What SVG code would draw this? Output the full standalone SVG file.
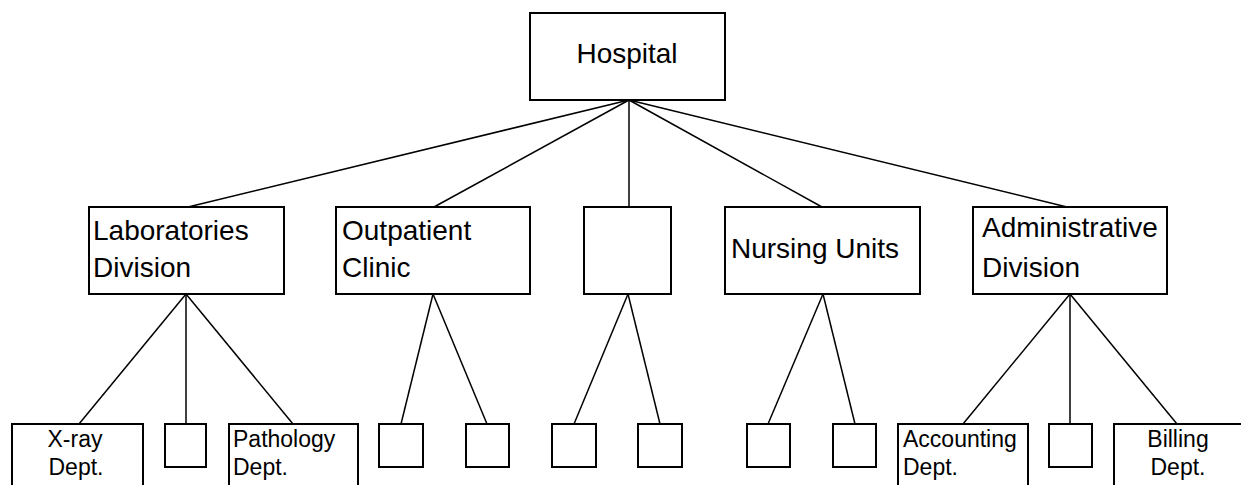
<svg xmlns="http://www.w3.org/2000/svg" width="1241" height="485" viewBox="0 0 1241 485">
<style>
.box{fill:#fff;stroke:#000;stroke-width:2}
.ln{stroke:#000;stroke-width:1.5;fill:none}
.t1{font-family:"Liberation Sans",Arial,sans-serif;font-size:28px;fill:#000}
.t2{font-family:"Liberation Sans",Arial,sans-serif;font-size:23px;fill:#000}
</style>
<rect width="1241" height="485" fill="#fff"/>
<g id="connectors">
<line class="ln" x1="629" y1="100" x2="188" y2="207"/>
<line class="ln" x1="629" y1="100" x2="434" y2="207"/>
<line class="ln" x1="629" y1="100" x2="629" y2="207"/>
<line class="ln" x1="629" y1="100" x2="822" y2="207"/>
<line class="ln" x1="629" y1="100" x2="1067" y2="207"/>
<line class="ln" x1="186" y1="294" x2="79" y2="424"/>
<line class="ln" x1="186" y1="294" x2="186" y2="424"/>
<line class="ln" x1="186" y1="294" x2="293" y2="424"/>
<line class="ln" x1="433" y1="294" x2="401" y2="424"/>
<line class="ln" x1="433" y1="294" x2="487" y2="424"/>
<line class="ln" x1="628" y1="294" x2="574" y2="424"/>
<line class="ln" x1="628" y1="294" x2="660" y2="424"/>
<line class="ln" x1="823" y1="294" x2="768" y2="424"/>
<line class="ln" x1="823" y1="294" x2="855" y2="424"/>
<line class="ln" x1="1070" y1="294" x2="963" y2="424"/>
<line class="ln" x1="1070" y1="294" x2="1070" y2="424"/>
<line class="ln" x1="1070" y1="294" x2="1177" y2="424"/>
</g>
<g id="hospital"><rect class="box" x="530" y="13" width="195" height="87"/><text class="t1" x="627" y="63" text-anchor="middle">Hospital</text></g>
<g id="lab"><rect class="box" x="89" y="207" width="195" height="87"/><text class="t1" x="93" y="240">Laboratories</text><text class="t1" x="93" y="277">Division</text></g>
<g id="outpatient"><rect class="box" x="336" y="207" width="194" height="87"/><text class="t1" x="342" y="240">Outpatient</text><text class="t1" x="342" y="277">Clinic</text></g>
<g id="blank2"><rect class="box" x="584" y="207" width="87" height="87"/></g>
<g id="nursing"><rect class="box" x="725" y="207" width="195" height="87"/><text class="t1" x="731" y="258">Nursing Units</text></g>
<g id="admin"><rect class="box" x="973" y="207" width="194" height="87"/><text class="t1" x="982" y="237">Administrative</text><text class="t1" x="982" y="277">Division</text></g>
<g id="xray"><rect class="box" x="12" y="424" width="131" height="80"/><text class="t2" x="75" y="447" text-anchor="middle">X-ray</text><text class="t2" x="76" y="475" text-anchor="middle">Dept.</text></g>
<g id="b1"><rect class="box" x="165" y="424" width="41" height="43"/></g>
<g id="pathology"><rect class="box" x="229" y="424" width="129" height="80"/><text class="t2" x="233" y="447">Pathology</text><text class="t2" x="233" y="475">Dept.</text></g>
<g id="b2"><rect class="box" x="379" y="424" width="44" height="43"/></g>
<g id="b3"><rect class="box" x="466" y="424" width="43" height="43"/></g>
<g id="b4"><rect class="box" x="552" y="424" width="44" height="43"/></g>
<g id="b5"><rect class="box" x="638" y="424" width="44" height="43"/></g>
<g id="b6"><rect class="box" x="747" y="424" width="43" height="43"/></g>
<g id="b7"><rect class="box" x="833" y="424" width="43" height="43"/></g>
<g id="accounting"><rect class="box" x="898" y="424" width="130" height="80"/><text class="t2" x="903" y="447">Accounting</text><text class="t2" x="903" y="475">Dept.</text></g>
<g id="b8"><rect class="box" x="1049" y="424" width="43" height="43"/></g>
<g id="billing"><rect class="box" x="1114" y="424" width="140" height="80"/><text class="t2" x="1178" y="447" text-anchor="middle">Billing</text><text class="t2" x="1178" y="475" text-anchor="middle">Dept.</text></g>
</svg>
